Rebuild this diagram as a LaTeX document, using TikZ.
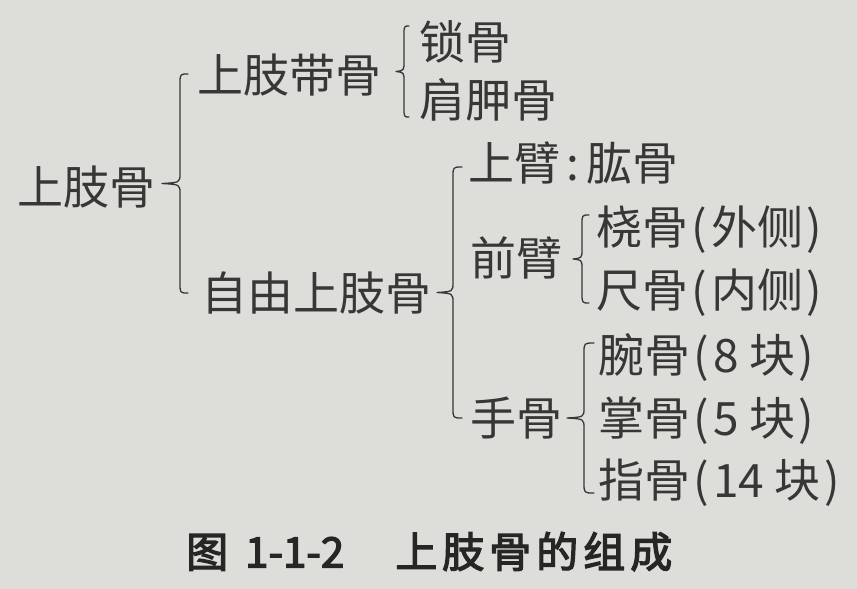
\documentclass[tikz,border=0pt]{standalone}
\usepackage{fontspec}
\newfontfamily\cjk{Noto Sans CJK SC}
\newfontfamily\cjkcap{Noto Sans CJK SC}[FakeBold=3]
\definecolor{paper}{RGB}{221,222,217}
\definecolor{ink}{RGB}{55,55,55}
\newcommand\lp{\makebox[0.5em][c]{(}}
\newcommand\rp{\makebox[0.5em][c]{)}}
% #1 end x, #2 line x, #3 tip x, #4 top y, #5 bottom y
\newcommand\mybrace[5]{%
  \pgfmathsetmacro\ym{(#4+#5)/2}%
  \draw[bracestyle] (#1,#4) .. controls (#2,#4) .. (#2,{#4+10})
    -- (#2,{\ym-10}) .. controls (#2,{\ym-1}) .. (#3,\ym)
    .. controls (#2,{\ym+1}) .. (#2,{\ym+10})
    -- (#2,{#5-10}) .. controls (#2,#5) .. (#1,#5);}
\begin{document}
\begin{tikzpicture}[x=1pt,y=-1pt,
  lbl/.style={font=\cjk\fontsize{46pt}{46pt}\selectfont, text=ink, inner sep=0pt,
    anchor=west, text height=40.5pt, text depth=5.5pt},
  captext/.style={lbl, font=\cjkcap\fontsize{42pt}{42pt}\selectfont, text={rgb,255:red,38;green,38;blue,38}},
  bracestyle/.style={draw=ink, line width=1.3pt, line cap=round, line join=round}]
\fill[paper] (0,0) rectangle (857,589);
\useasboundingbox (0,0) rectangle (857,589);

\node[lbl] (root) at (17,187) {上肢骨};
\node[lbl] (girdle) at (197,75) {上肢带骨};
\node[lbl] (clav) at (419,42) {锁骨};
\node[lbl] (scap) at (419,100) {肩胛骨};
\node[lbl] (free) at (201,293) {自由上肢骨};
\node[lbl] (arm) at (468,163) {上臂\makebox[26pt][c]{:}肱骨};
\node[lbl] (fore) at (470,258) {前臂};
\node[lbl] (rad) at (596,227) {桡骨\lp 外侧\rp};
\node[lbl] (uln) at (596,290) {尺骨\lp 内侧\rp};
\node[lbl] (hand) at (470,418) {手骨};
\node[lbl] (carp) at (598,355) {腕骨\lp 8 块\rp};
\node[lbl] (meta) at (598,418) {掌骨\lp 5 块\rp};
\node[lbl] (phal) at (598,480) {指骨\lp 14 块\rp};
\node[captext] (title) at (186,550)
  {图\hspace{17pt}1-1-2\hspace{51pt}上\kern5pt 肢\kern5pt 骨\kern5pt 的\kern5pt 组\kern5pt 成};

\mybrace{188}{180}{162}{74}{293}
\mybrace{409}{404}{396}{26}{117}
\mybrace{462}{453}{437}{167}{418}
\mybrace{589}{582}{573}{215}{303}
\mybrace{594}{584}{567}{343}{493}
\end{tikzpicture}
\end{document}
